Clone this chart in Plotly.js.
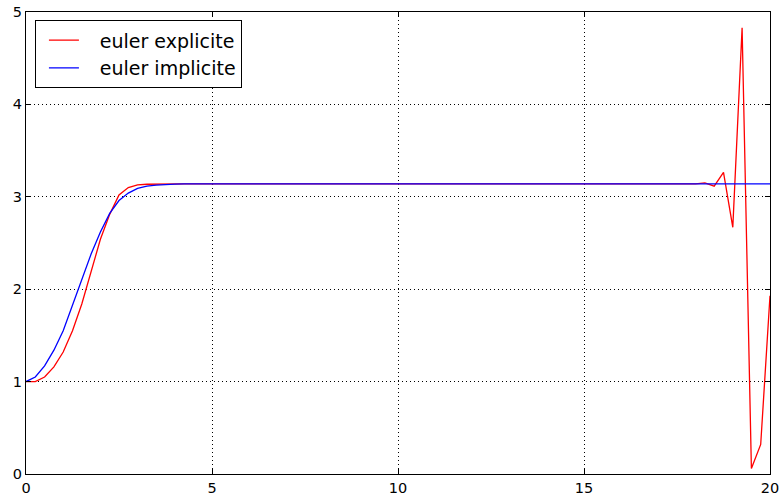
<!DOCTYPE html>
<html>
<head>
<meta charset="utf-8">
<script src="https://cdn.plot.ly/plotly-3.0.1.min.js"></script>
<style>html,body{margin:0;padding:0;background:#fff;}#chart{width:780px;height:495px;}</style>
</head>
<body>
<div id="chart"></div>
<script>
var t = [0,0.25,0.5,0.75,1,1.25,1.5,1.75,2,2.25,2.5,2.75,3,3.25,3.5,3.75,4,4.25,4.5,4.75,
5,5.25,5.5,5.75,6,6.25,6.5,6.75,7,7.25,7.5,7.75,8,8.25,8.5,8.75,9,9.25,9.5,9.75,
10,10.25,10.5,10.75,11,11.25,11.5,11.75,12,12.25,12.5,12.75,13,13.25,13.5,13.75,14,14.25,14.5,14.75,
15,15.25,15.5,15.75,16,16.25,16.5,16.75,17,17.25,17.5,17.75,18,18.25,18.5,18.75,19,19.25,19.5,19.75,20];

var eulerExplicite = [1.0,1.0,1.05,1.16,1.32,1.55,1.84,2.2,2.54,2.81,3.02,3.1,3.128,3.136,3.139,3.14,3.14,3.14,3.14,3.14,
3.14,3.14,3.14,3.14,3.14,3.14,3.14,3.14,3.14,3.14,3.14,3.14,3.14,3.14,3.14,3.14,3.14,3.14,3.14,3.14,
3.14,3.14,3.14,3.14,3.14,3.14,3.14,3.14,3.14,3.14,3.14,3.14,3.14,3.14,3.14,3.14,3.14,3.14,3.14,3.14,
3.14,3.14,3.14,3.14,3.14,3.14,3.14,3.14,3.14,3.14,3.14,3.14,3.14,3.15,3.115,3.265,2.67,4.83,0.06,0.32,1.93];

var eulerImplicite = [1.0,1.05,1.17,1.34,1.55,1.83,2.11,2.38,2.62,2.82,2.96,3.04,3.09,3.115,3.127,3.134,3.137,3.139,3.14,3.14,
3.14,3.14,3.14,3.14,3.14,3.14,3.14,3.14,3.14,3.14,3.14,3.14,3.14,3.14,3.14,3.14,3.14,3.14,3.14,3.14,
3.14,3.14,3.14,3.14,3.14,3.14,3.14,3.14,3.14,3.14,3.14,3.14,3.14,3.14,3.14,3.14,3.14,3.14,3.14,3.14,
3.14,3.14,3.14,3.14,3.14,3.14,3.14,3.14,3.14,3.14,3.14,3.14,3.14,3.14,3.14,3.14,3.14,3.14,3.14,3.14,3.14];

var seriesNames = ['euler explicite', 'euler implicite'];
var xTicks = [0,5,10,15,20];
var yTicks = [0,1,2,3,4,5];

var pad = '\u00a0\u00a0\u2009';
var traces = [
  {x: t, y: eulerExplicite, name: pad + seriesNames[0], legendgroup: 'a', type: 'scatter', mode: 'lines',
   line: {color: '#ff0000', width: 1.3}},
  {x: t, y: eulerImplicite, name: pad + seriesNames[1], legendgroup: 'b', type: 'scatter', mode: 'lines',
   line: {color: '#0000ff', width: 1.3}}
];

var axisCommon = {
  showline: true, linecolor: '#000', linewidth: 1.2, mirror: 'ticks',
  ticks: 'inside', ticklen: 5, tickwidth: 1, tickcolor: '#000',
  showgrid: true, gridcolor: '#000', gridwidth: 1, griddash: '1px,3px',
  zeroline: false, tickfont: {family: 'DejaVu Sans', size: 14.5, color: '#000'}
};

var layout = {
  width: 780, height: 495,
  margin: {l: 26, r: 10, t: 12, b: 21, pad: 0},
  paper_bgcolor: '#fff', plot_bgcolor: '#fff',
  showlegend: true,
  legend: {x: 0.012, y: 0.982, xanchor: 'left', yanchor: 'top',
    bgcolor: '#fff', bordercolor: '#000', borderwidth: 1,
    font: {family: 'DejaVu Sans', size: 19, color: '#000'}, itemwidth: 30,
    indentation: 8, tracegroupgap: 0},
  xaxis: Object.assign({}, axisCommon, {range: [0, 20], tickvals: xTicks, ticktext: xTicks.map(String)}),
  yaxis: Object.assign({}, axisCommon, {range: [0, 5], tickvals: yTicks, ticktext: yTicks.map(String)})
};

Plotly.newPlot('chart', traces, layout, {displayModeBar: false, staticPlot: true});
</script>
</body>
</html>
